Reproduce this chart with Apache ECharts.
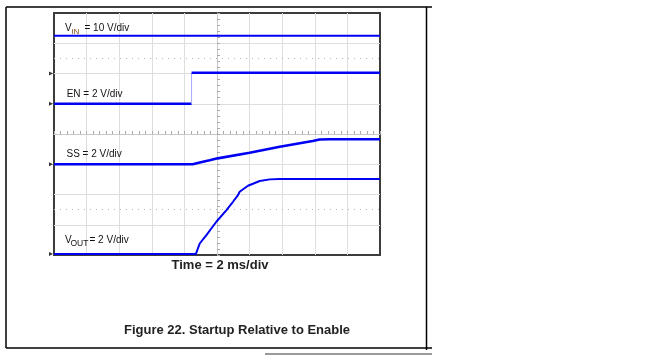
<!DOCTYPE html>
<html><head><meta charset="utf-8">
<script src="https://cdn.jsdelivr.net/npm/echarts@6/dist/echarts.min.js"></script>
<style>html,body{margin:0;padding:0;background:#fff}#c{width:663px;height:356px}</style>
</head><body><div id="c"></div>
<script>
// ---- Data read from the scope capture (time in ms, 0 = screen centre, 2 ms/div) ----
const timeRangeMs = [-10, 10];
const timeStepMs = 2;
const divRange = [-4, 4];
const dottedRefDiv = [2.5, -2.5];
// Channel settings
const channelNames = ['VIN', 'EN', 'SS', 'VOUT'];
const voltsPerDiv = [10, 2, 2, 2];
const groundDiv = [2, 1, -1, -3.97];
// VIN
const vinTime = [-10, 10];
const vinVolts = [12.5, 12.5];
// EN
const enTime = [-10, -1.56, -1.56, 10];
const enVolts = [0, 0, 2.05, 2.05];
// SS
const ssTime = [-10, -1.49, -1.06, -0.45, 0.04, 2.0, 3.85, 5.87, 6.3, 6.92, 10];
const ssVolts = [0, 0, 0.11, 0.26, 0.39, 0.76, 1.16, 1.54, 1.64, 1.65, 1.65];
// VOUT
const voutTime = [-10, -1.30, -1.06, -0.65, -0.04, 0.58, 0.98, 1.29, 1.39, 1.90, 2.62, 3.24, 3.85, 10];
const voutVolts = [0, 0, 0.7, 1.26, 2.14, 2.91, 3.46, 3.9, 4.12, 4.52, 4.83, 4.94, 4.96, 4.96];
// Texts
const xAxisTitle = 'Time = 2 ms/div';
const figureCaption = 'Figure 22. Startup Relative to Enable';

// ---- Build ----
function toDiv(ch, t, v) { return t.map((x, i) => [x, groundDiv[ch] + v[i] / voltsPerDiv[ch]]); }
const TRACE = '#0000f2';
const FONT = '"Liberation Sans", Arial, sans-serif';
const vinData = toDiv(0, vinTime, vinVolts);
const enData = toDiv(1, enTime, enVolts);
const ssData = toDiv(2, ssTime, ssVolts);
const voutData = toDiv(3, voutTime, voutVolts);

function line(name, data, width, color) {
  return { name, type: 'line', data, showSymbol: false, symbol: 'none', silent: true, animation: false,
    lineStyle: { color: color || TRACE, width }, z: 5 };
}
const vinSeries = line('VIN', vinData, 2);
vinSeries.markLine = { silent: true, symbol: ['none', 'none'], label: { show: false },
  lineStyle: { type: [1, 5], color: '#b5b5b5', width: 1 }, animation: false,
  data: dottedRefDiv.map(d => ({ yAxis: d })) };

const series = [
  vinSeries,
  line('EN low', enData.slice(0, 2), 2.5),
  line('EN edge', enData.slice(1, 3), 1, '#a8a8ff'),
  line('EN high', enData.slice(2, 4), 2.5),
  line('SS', ssData, 2.6),
  line('VOUT', voutData, 2),
  { name: 'ground', type: 'scatter', data: groundDiv.map(g => [timeRangeMs[0], g]), symbol: 'triangle',
    symbolRotate: -90, symbolSize: [4, 4], symbolOffset: [-3, 0], itemStyle: { color: '#000' },
    clip: false, silent: true, animation: false, z: 6 }
];

function txt(x, y, s, size, opts) {
  return Object.assign({ type: 'text', x, y, silent: true, z: 20,
    style: Object.assign({ text: s, font: size + 'px ' + FONT, fill: '#111', verticalAlign: 'middle', align: 'left' }, (opts || {})) });
}
function bold(x, y, s, size) {
  return { type: 'text', x, y, silent: true, z: 20,
    style: { text: s, font: 'bold ' + size + 'px ' + FONT, fill: '#222', verticalAlign: 'middle', align: 'center' } };
}
function seg(x1, y1, x2, y2, color, w) {
  return { type: 'line', silent: true, z: 20, shape: { x1, y1, x2, y2 }, style: { stroke: color, lineWidth: w } };
}

const chart = echarts.init(document.getElementById('c'), null, { renderer: 'canvas' });
const axisCommon = {
  type: 'value',
  axisLabel: { show: false },
  axisLine: { show: true, onZero: true, lineStyle: { color: '#c9c9c9', width: 1 } },
  axisTick: { show: true, inside: true, length: 3, lineStyle: { color: '#aaa' } },
  minorTick: { show: true, splitNumber: 5, length: 3, lineStyle: { color: '#aaa' } },
  splitLine: { show: true, showMinLine: false, showMaxLine: false, lineStyle: { color: '#dedede', width: 1 } }
};
chart.setOption({
  animation: false,
  grid: { left: 54, top: 13, width: 326, height: 242, show: true, borderColor: '#3c3c3c', borderWidth: 2, backgroundColor: 'transparent' },
  xAxis: Object.assign({}, axisCommon, { min: timeRangeMs[0], max: timeRangeMs[1], interval: timeStepMs }),
  yAxis: Object.assign({}, axisCommon, { min: divRange[0], max: divRange[1], interval: 1 }),
  series,
  graphic: [
    seg(6, 7, 432, 7, '#000', 1.5),
    seg(6, 7, 6, 348, '#000', 1.5),
    seg(426.5, 7, 426.5, 350, '#000', 1.5),
    seg(6, 348, 432, 348, '#000', 1.5),
    seg(265, 354, 432, 354, '#9a9a9a', 2),
    txt(65, 28.2, 'V', 10),
    txt(71.3, 31.5, 'IN', 8, { fill: '#8a4b12' }),
    txt(84.5, 28.2, '= 10 V/div', 10),
    txt(66.7, 93.8, 'EN = 2 V/div', 10),
    txt(66.5, 154.5, 'SS = 2 V/div', 10),
    txt(65, 240.5, 'V', 10),
    txt(70.5, 243.7, 'OUT', 8.5),
    txt(89.5, 240.5, '= 2 V/div', 10),
    bold(220, 265.4, xAxisTitle, 13),
    bold(237, 330.5, figureCaption, 13)
  ]
});
</script></body></html>
